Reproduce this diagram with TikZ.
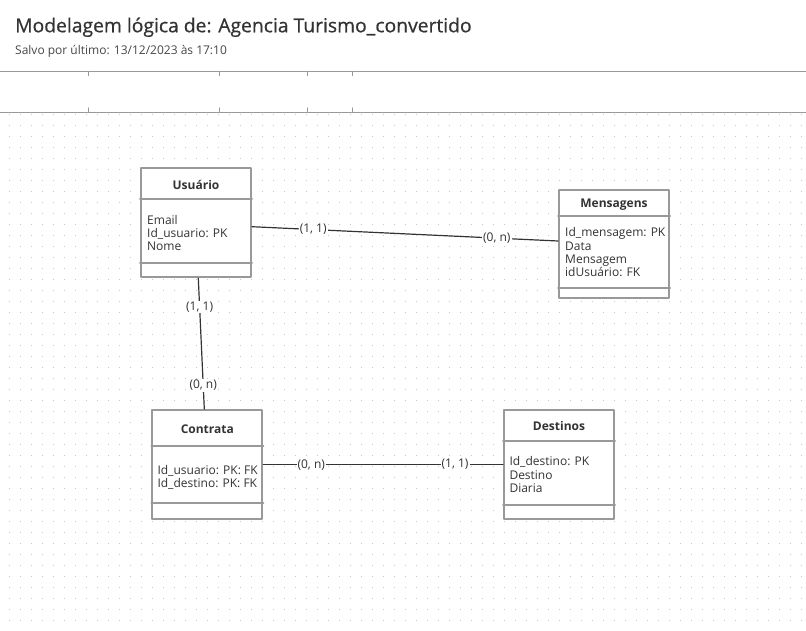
\documentclass[tikz,border=0pt]{standalone}
\usepackage{fontspec}
\setmainfont{Open Sans}
\newfontfamily\titulofonte[FakeBold=0.6]{Open Sans}
\usepackage{tikz}
\usetikzlibrary{calc}
\definecolor{grelha}{rgb}{0.78,0.78,0.78}
\definecolor{borda}{rgb}{0.6,0.6,0.6}
\definecolor{texto}{rgb}{0.2,0.2,0.2}
\tikzstyle{every node}=[font=\fontsize{12}{13.3}\selectfont,text=texto,inner sep=0pt]
\tikzstyle{entidade}=[draw=borda,line width=2pt,fill=white,minimum width=110pt]
\tikzstyle{divisor}=[draw=borda,line width=2pt]
\tikzstyle{nome}=[font=\bfseries\fontsize{12}{14}\selectfont]
\tikzstyle{atrib}=[anchor=north west,align=left]
\tikzstyle{liga}=[draw=texto,line width=1.2pt]
\tikzstyle{card}=[fill=white,inner sep=1pt]

\begin{document}
\begin{tikzpicture}[line cap=round,line join=round,x=1pt,y=-1pt]
            \useasboundingbox (0,0) rectangle (806,631);
            \fill[white] (0,0) rectangle (806,631);
            % grelha de pontos
            \foreach \i in {0,...,72}
              \foreach \j in {0,...,46}
                \fill[grelha] ({8.8+11*\i},{113.8+11*\j}) rectangle +(1,1);
            \fill[white] (0,0) rectangle (806,113);
            % cabecalho
            \node[anchor=base west,font=\titulofonte\fontsize{19.3}{23}\selectfont] (titulo) at (15,32.3) {Modelagem lógica de: Agencia Turismo\_convertido};
            \node[anchor=base west,font=\fontsize{12}{15}\selectfont,text=texto!90] (salvo) at (15,55) {Salvo por último: 13/12/2023 às 17:10};
            \draw[borda,line width=1.3pt] (0,71.6) -- (806,71.6);
            \draw[borda,line width=1.3pt] (0,112.3) -- (806,112.3);
            \foreach \x in {88.3,219.3,307.3,352.3}
              {\draw[borda,line width=1.3pt] (\x,71.6) -- (\x,75.5);
               \draw[borda,line width=1.3pt] (\x,108) -- (\x,112.3);}
            % Usuario
            \node[entidade,minimum height=109pt] (usuario) at (196,222.75) {};
            \draw[divisor] ([yshift=-31.3pt]usuario.north west) -- ([yshift=-31.3pt]usuario.north east);
            \draw[divisor] ([yshift=15pt]usuario.south west) -- ([yshift=15pt]usuario.south east);
            \node[nome] (usuario-t) at (196,184.5) {Usuário};
            \node[atrib] (usuario-a) at (147,214.8) {Email\\Id\_usuario: PK\\Nome};
            % Mensagens
            \node[entidade,minimum height=108.3pt] (mensagens) at (614,244.15) {};
            \draw[divisor] ([yshift=-26.7pt]mensagens.north west) -- ([yshift=-26.7pt]mensagens.north east);
            \draw[divisor] ([yshift=11.6pt]mensagens.south west) -- ([yshift=11.6pt]mensagens.south east);
            \node[nome] (mensagens-t) at (614,204.5) {Mensagens};
            \node[atrib] (mensagens-a) at (565,227.5) {Id\_mensagem: PK\\Data\\Mensagem\\idUsuário: FK};
            % Contrata
            \node[entidade,minimum height=109.3pt] (contrata) at (207.3,464.65) {};
            \draw[divisor] ([yshift=-36.7pt]contrata.north west) -- ([yshift=-36.7pt]contrata.north east);
            \draw[divisor] ([yshift=17.6pt]contrata.south west) -- ([yshift=17.6pt]contrata.south east);
            \node[nome] (contrata-t) at (207.3,429) {Contrata};
            \node[atrib] (contrata-a) at (157.3,464.8) {Id\_usuario: PK: FK\\Id\_destino: PK: FK};
            % Destinos
            \node[entidade,minimum height=109.3pt] (destinos) at (559,464.65) {};
            \draw[divisor] ([yshift=-31.7pt]destinos.north west) -- ([yshift=-31.7pt]destinos.north east);
            \draw[divisor] ([yshift=15.3pt]destinos.south west) -- ([yshift=15.3pt]destinos.south east);
            \node[nome] (destinos-t) at (559,426) {Destinos};
            \node[atrib] (destinos-a) at (509.3,456.5) {Id\_destino: PK\\Destino\\Diaria};
            % ligacoes
            \draw[liga] ([yshift=-3.95pt]usuario.east) -- node[card,pos=0.2] (c1) {(1, 1)} node[card,pos=0.8] (c2) {(0, n)} ([yshift=3.15pt]mensagens.west);
            \draw[liga] ([xshift=2.3pt]usuario.south) -- node[card,pos=0.22] (c3) {(1, 1)} node[card,pos=0.82] (c4) {(0, n)} ([xshift=-3pt]contrata.north);
            \draw[liga] (contrata.east) -- node[card,pos=0.2] (c5) {(0, n)} node[card,pos=0.8] (c6) {(1, 1)} (destinos.west);
            \end{tikzpicture}
\end{document}
